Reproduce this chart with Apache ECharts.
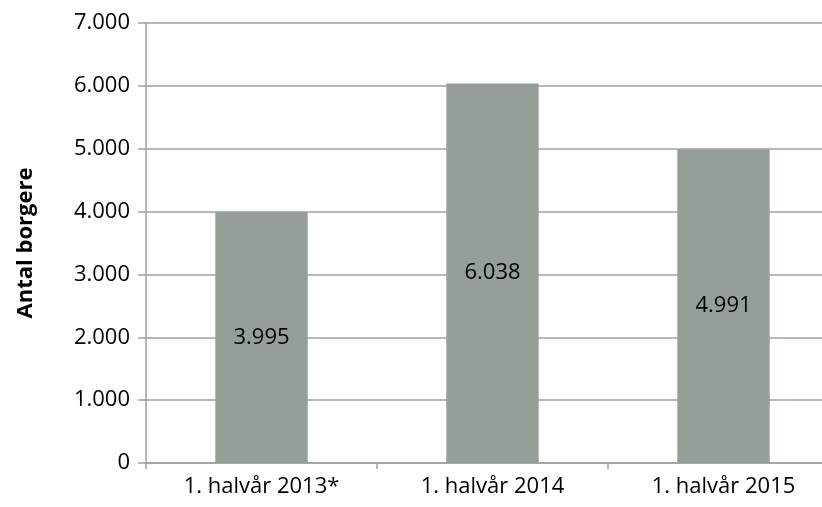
<!DOCTYPE html>
<html>
<head>
<meta charset="utf-8">
<script src="https://cdn.jsdelivr.net/npm/echarts@6/dist/echarts.min.js"></script>
<style>
  html, body { margin: 0; padding: 0; background: #fff; overflow: hidden; }
  /* the original picture is cropped: the plot runs past its right edge */
  #chart { width: 839px; height: 507px; }
</style>
</head>
<body>
<div id="chart"></div>
<script>
// data
var categories = ['1. halvår 2013*', '1. halvår 2014', '1. halvår 2015']
var borgere = [3995, 6038, 4991]
var yTicks = [0, 1000, 2000, 3000, 4000, 5000, 6000, 7000]

function fmtDk(v) {
  // danish thousands separator
  return String(v).replace(/\B(?=(\d{3})+(?!\d))/g, '.')
}

var chart = echarts.init(document.getElementById('chart'))
var font = 'Open Sans, Liberation Sans, sans-serif'
var option = {
  animation: false,
  grid: { left: 146, right: 0, top: 23, bottom: 44 },
  xAxis: {
    type: 'category',
    data: categories,
    axisLine: { lineStyle: { color: '#a0a0a0', width: 1.5 } },
    axisTick: { show: true, length: 6, lineStyle: { color: '#a0a0a0', width: 1.5 } },
    axisLabel: { color: '#000', fontSize: 22, fontFamily: font, margin: 13 }
  },
  yAxis: {
    type: 'value',
    min: yTicks[0],
    max: yTicks[yTicks.length - 1],
    interval: 1000,
    name: 'Antal borgere',
    nameLocation: 'middle',
    nameGap: 109,
    nameRotate: 90,
    nameTextStyle: { color: '#000', fontSize: 22, fontWeight: 'bold', fontFamily: font },
    axisLine: { show: true, lineStyle: { color: '#a0a0a0', width: 1.5 } },
    axisTick: { show: true, length: 8, lineStyle: { color: '#a0a0a0', width: 1.5 } },
    axisLabel: { color: '#000', fontSize: 22, fontFamily: font, margin: 16, formatter: fmtDk },
    splitLine: { lineStyle: { color: '#a0a0a0', width: 1.5 } }
  },
  series: [{
    type: 'bar',
    data: borgere,
    barCategoryGap: '60%',
    itemStyle: { color: '#949f98' },
    label: {
      show: true,
      position: 'inside',
      color: '#000',
      fontSize: 22,
      fontFamily: font,
      formatter: function (p) { return fmtDk(p.value) }
    }
  }]
}
chart.setOption(option)
</script>
</body>
</html>
